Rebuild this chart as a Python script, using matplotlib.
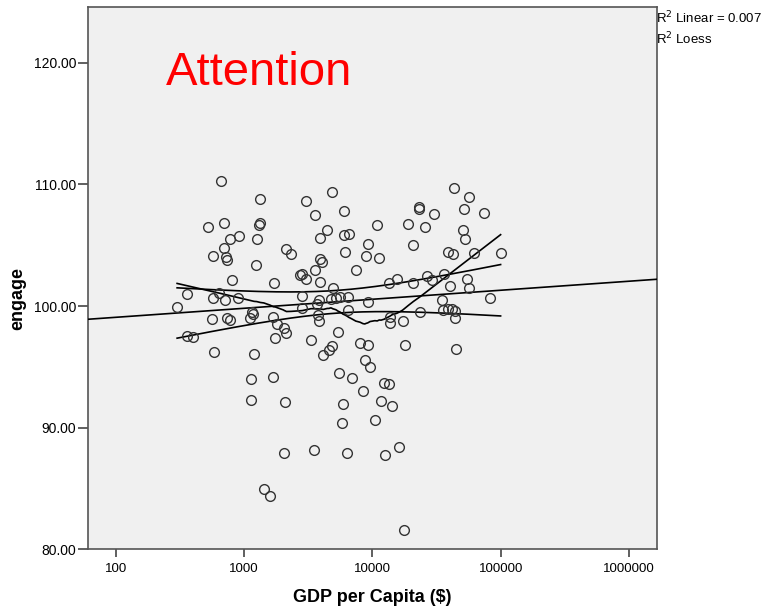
import numpy as np
import matplotlib
matplotlib.use("Agg")
import matplotlib.pyplot as plt
from matplotlib.ticker import FixedLocator, FixedFormatter, NullLocator

plt.rcParams['font.family'] = ['Liberation Sans', 'DejaVu Sans']

# ---- data ----
gdp = [665, 1340, 524, 698, 1303, 1340, 774, 910, 1256, 2113, 2323, 695, 570, 724, 741,
       1247, 806, 1698, 360, 638, 573, 705, 898, 301, 558, 736, 778, 1114, 1161, 1175,
       1692, 1807, 2061, 2137, 1753, 360, 397, 583, 1197, 1140, 1682, 1127, 2100, 2037,
       1425, 1596, 2729, 2830, 3015, 2846, 2846, 3041, 4808, 3556, 6012, 4446, 3908,
       6039, 6520, 10910, 9204, 6073, 8933, 11320, 3873, 4055, 7430, 3589, 3908, 4897,
       3819, 4721, 5190, 5549, 6496, 9183, 3707, 6496, 3750, 3809, 5429, 3326, 4831,
       4595, 4140, 8017, 9308, 18030, 8730, 9594, 5469, 6902, 12390, 13490, 8450, 5916,
       11690, 14220, 5768, 10450, 3491, 6383, 12510, 16070, 17660, 13610, 13610, 17180,
       19100, 25760, 29990, 23120, 23120, 42950, 56750, 52010, 74300, 50470, 52970,
       20700, 38900, 42560, 61480, 99800, 15520, 13550, 20880, 26850, 29380, 36390,
       40360, 54700, 56750, 81850, 34600, 23600, 35560, 38730, 41400, 44160, 44260, 45190]
engage = [110.31, 108.83, 106.53, 106.86, 106.65, 106.81, 105.52, 105.74, 105.49, 104.70,
          104.26, 104.75, 104.10, 104.04, 103.77, 103.38, 102.11, 101.86, 101.00, 101.08,
          100.63, 100.54, 100.69, 99.90, 98.94, 98.98, 98.86, 99.00, 99.52, 99.33, 99.09,
          98.53, 98.20, 97.75, 97.34, 97.53, 97.48, 96.25, 96.09, 94.03, 94.15, 92.28,
          92.09, 87.92, 84.93, 84.36, 102.52, 102.68, 102.19, 100.81, 99.84, 108.66,
          109.38, 107.52, 107.80, 106.26, 105.64, 105.83, 105.91, 106.65, 105.08, 104.43,
          104.08, 103.92, 103.90, 103.63, 102.93, 102.97, 101.98, 101.45, 100.50, 100.60,
          100.68, 100.72, 100.77, 100.36, 100.20, 99.70, 99.24, 98.76, 97.91, 97.19, 96.74,
          96.39, 95.94, 96.99, 96.80, 96.80, 95.53, 95.02, 94.47, 94.11, 93.70, 93.62,
          92.99, 91.95, 92.20, 91.79, 90.41, 90.63, 88.17, 87.90, 87.76, 88.39, 81.61,
          99.10, 98.57, 98.78, 106.74, 106.53, 107.59, 108.18, 107.97, 109.75, 108.97,
          107.96, 107.62, 106.28, 105.54, 105.03, 104.43, 104.29, 104.38, 104.35, 102.25,
          101.92, 101.93, 102.45, 102.15, 102.67, 101.69, 102.20, 101.45, 100.67, 100.48,
          99.50, 99.66, 99.72, 99.72, 99.60, 99.06, 96.45]

x_ticks = [100, 1000, 10000, 100000, 1000000]
x_tick_labels = ["100", "1000", "10000", "100000", "1000000"]
y_ticks = [80, 90, 100, 110, 120]
y_tick_labels = ["80.00", "90.00", "100.00", "110.00", "120.00"]
title_text = "Attention"
legend_lines = ["R$^2$ Linear = 0.007", "R$^2$ Loess"]

# ---- computations (fit in log10 space, like SPSS on log axis) ----
gx = np.array(gdp, float)
gy = np.array(engage, float)
lx = np.log10(gx)
n = len(lx)
b, a = np.polyfit(lx, gy, 1)
resid = gy - (a + b * lx)
s = np.sqrt(np.sum(resid ** 2) / (n - 2))
xbar = lx.mean()
sxx = np.sum((lx - xbar) ** 2)
tval = 1.977

def loess(x, y, frac=0.5):
    order = np.argsort(x)
    xs, ys = x[order], y[order]
    k = int(np.ceil(frac * len(xs)))
    out = []
    for x0 in xs:
        d = np.abs(xs - x0)
        idx = np.argsort(d)[:k]
        dmax = d[idx].max() * 1.0001
        w = 1 - (d[idx] / dmax) ** 2
        W = np.sqrt(w)
        A = np.vstack([np.ones(k), xs[idx] - x0]).T
        coef, *_ = np.linalg.lstsq(A * W[:, None], ys[idx] * W, rcond=None)
        out.append(coef[0])
    return xs, np.array(out)

xmin_ax, xmax_ax = 60.3, 1.66e6
ymin_ax, ymax_ax = 80, 124.62

fig = plt.figure(figsize=(7.63, 6.09), dpi=100)
ax = fig.add_axes([87.5 / 763, 1 - 549.3 / 609, (657.3 - 87.5) / 763, (549.3 - 6.7) / 609])
ax.set_facecolor('#f0f0f0')
ax.set_xscale('log')
ax.set_xlim(xmin_ax, xmax_ax)
ax.set_ylim(ymin_ax, ymax_ax)

# linear fit across full axis
xf = np.linspace(np.log10(xmin_ax), np.log10(xmax_ax), 200)
ax.plot(10 ** xf, a + b * xf, color='black', lw=1.2, zorder=3)
# confidence bands over data range
xb = np.linspace(lx.min(), lx.max(), 200)
hw = tval * s * np.sqrt(1 / n + (xb - xbar) ** 2 / sxx)
ax.plot(10 ** xb, a + b * xb + hw, color='black', lw=1.2, zorder=3)
ax.plot(10 ** xb, a + b * xb - hw, color='black', lw=1.2, zorder=3)
# loess
lxs, lys = loess(lx, gy, 0.5)
ax.plot(10 ** lxs, lys, color='black', lw=1.2, zorder=3)

ax.plot(gx, gy, linestyle='none', marker='o', ms=7, mfc='none', mec='#333333', mew=1.0, zorder=4)

ax.xaxis.set_major_locator(FixedLocator(x_ticks))
ax.xaxis.set_major_formatter(FixedFormatter(x_tick_labels))
ax.xaxis.set_minor_locator(NullLocator())
ax.yaxis.set_major_locator(FixedLocator(y_ticks))
ax.yaxis.set_major_formatter(FixedFormatter(y_tick_labels))
ax.tick_params(axis='x', direction='out', length=6, width=1.2, color='#444444', labelsize=9.5, pad=4)
ax.tick_params(axis='y', direction='out', length=7, width=1.2, color='#444444', labelsize=10, pad=1)
for sp in ax.spines.values():
    sp.set_color('#555555')
    sp.set_linewidth(1.2)

ax.text(0.301, 0.8557, title_text, transform=ax.transAxes, ha='center', va='baseline',
        color='#ff0000', fontsize=34)

fig.text(372 / 763, 1 - 597 / 609, "GDP per Capita ($)", ha='center', va='center',
         fontsize=13, fontweight='bold')
fig.text(18 / 763, 1 - 298 / 609, "engage", ha='center', va='center', rotation=90,
         fontsize=13, fontweight='bold')
fig.text(656 / 763, 1 - 18 / 609, legend_lines[0], ha='left', va='center', fontsize=9.5)
fig.text(656 / 763, 1 - 39 / 609, legend_lines[1], ha='left', va='center', fontsize=9.5)

fig.savefig('out.png', dpi=100)
